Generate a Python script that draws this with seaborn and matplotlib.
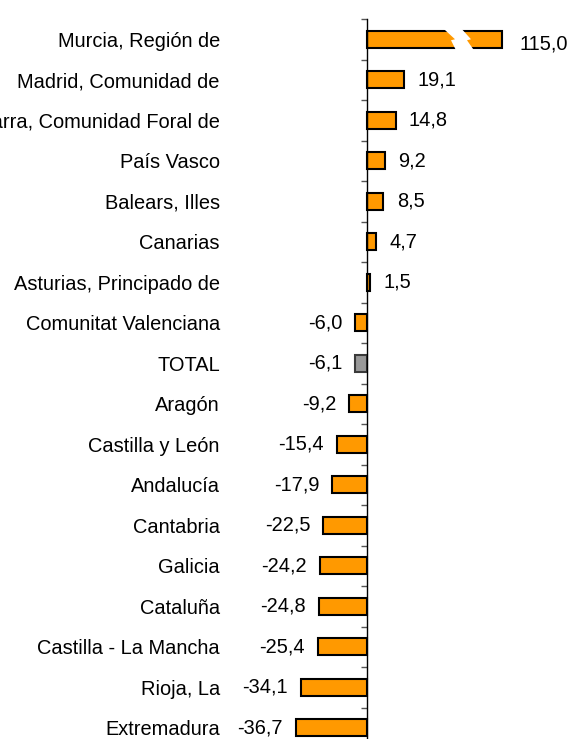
import matplotlib
matplotlib.use("Agg")
import matplotlib.pyplot as plt
import seaborn as sns
import pandas as pd
import numpy as np
from matplotlib.patches import Polygon
from matplotlib.ticker import FixedLocator, NullFormatter

regions = [
    "Murcia, Región de", "Madrid, Comunidad de", "Navarra, Comunidad Foral de",
    "País Vasco", "Balears, Illes", "Canarias", "Asturias, Principado de",
    "Comunitat Valenciana", "TOTAL", "Aragón", "Castilla y León", "Andalucía",
    "Cantabria", "Galicia", "Cataluña", "Castilla - La Mancha", "Rioja, La",
    "Extremadura",
]
values = [115.0, 19.1, 14.8, 9.2, 8.5, 4.7, 1.5, -6.0, -6.1, -9.2, -15.4,
          -17.9, -22.5, -24.2, -24.8, -25.4, -34.1, -36.7]
axis_cap = 70.0  # bars beyond this are drawn broken

ORANGE = "#FF9900"
GREY = "#999999"

sns.set_theme(style="white")
plt.rcParams["font.family"] = ["Liberation Sans", "DejaVu Sans"]

df = pd.DataFrame({"region": regions, "value": values})
df["shown"] = df["value"].clip(upper=axis_cap)
palette = {r: (GREY if r == "TOTAL" else ORANGE) for r in regions}

W, H = 573, 739
fig = plt.figure(figsize=(W / 100, H / 100), dpi=100)
xmin, xmax = -40.0, 105.0
pxu = 1.935  # pixels per unit
zero_px = 367
left_px = zero_px + xmin * pxu
width_px = (xmax - xmin) * pxu
top_px = 19
row_px = 40.5
height_px = row_px * len(regions)
ax = fig.add_axes([left_px / W, 1 - (top_px + height_px) / H,
                   width_px / W, height_px / H])

sns.barplot(data=df, y="region", x="shown", hue="region", palette=palette,
            orient="h", width=0.42, edgecolor="black", linewidth=1.5,
            legend=False, ax=ax, saturation=1)

for patch, r in zip(ax.patches, regions):
    if r == "TOTAL":
        patch.set_edgecolor("#3a3a3a")

ax.set_xlim(xmin, xmax)
ax.set_ylim(len(regions) - 0.5, -0.5)
ax.set_xlabel("")
ax.set_ylabel("")
ax.xaxis.set_visible(False)
for s in ["top", "right", "bottom"]:
    ax.spines[s].set_visible(False)
ax.spines["left"].set_position(("data", 0))
ax.spines["left"].set_color("black")
ax.spines["left"].set_linewidth(1.0)

ax.set_yticks(range(len(regions)))
ax.set_yticklabels(regions, fontsize=14.4, color="black")
ax.tick_params(axis="y", which="major", length=0, pad=106)
ax.yaxis.set_minor_locator(FixedLocator(np.arange(-0.5, len(regions), 1.0)))
ax.yaxis.set_minor_formatter(NullFormatter())
ax.tick_params(axis="y", which="minor", left=True, right=False, length=4,
               width=1, color="#555555", direction="out")

# value labels
off = 9.5
for i, (v, s) in enumerate(zip(df["value"], df["shown"])):
    txt = f"{v:.1f}".replace(".", ",")
    if v > axis_cap:
        ax.annotate(txt, (s, i), xytext=(off + 3, -3.5),
                    textcoords="offset points", ha="left", va="center",
                    fontsize=14.4, color="black")
    elif v >= 0:
        ax.annotate(txt, (s, i), xytext=(off, 0), textcoords="offset points",
                    ha="left", va="center", fontsize=14.4, color="black")
    else:
        ax.annotate(txt, (s, i), xytext=(-off, 0), textcoords="offset points",
                    ha="right", va="center", fontsize=14.4, color="black")

# break mark on truncated bars
for i, v in enumerate(df["value"]):
    if v > axis_cap:
        x0 = 443 - zero_px  # px offset of gap start
        h = 0.42
        yt = i - h / 2
        def P(dx, t):
            return ((x0 + dx) / pxu, yt + t * h)
        poly = [P(0, -0.15), P(12, 0.5), P(8, 0.56), P(13, 1.15),
                P(31, 1.15), P(24, 0.56), P(28, 0.5), P(18, -0.15)]
        ax.add_patch(Polygon(poly, closed=True, facecolor="white",
                             edgecolor="none", zorder=5))

fig.savefig("out.png", dpi=100)
